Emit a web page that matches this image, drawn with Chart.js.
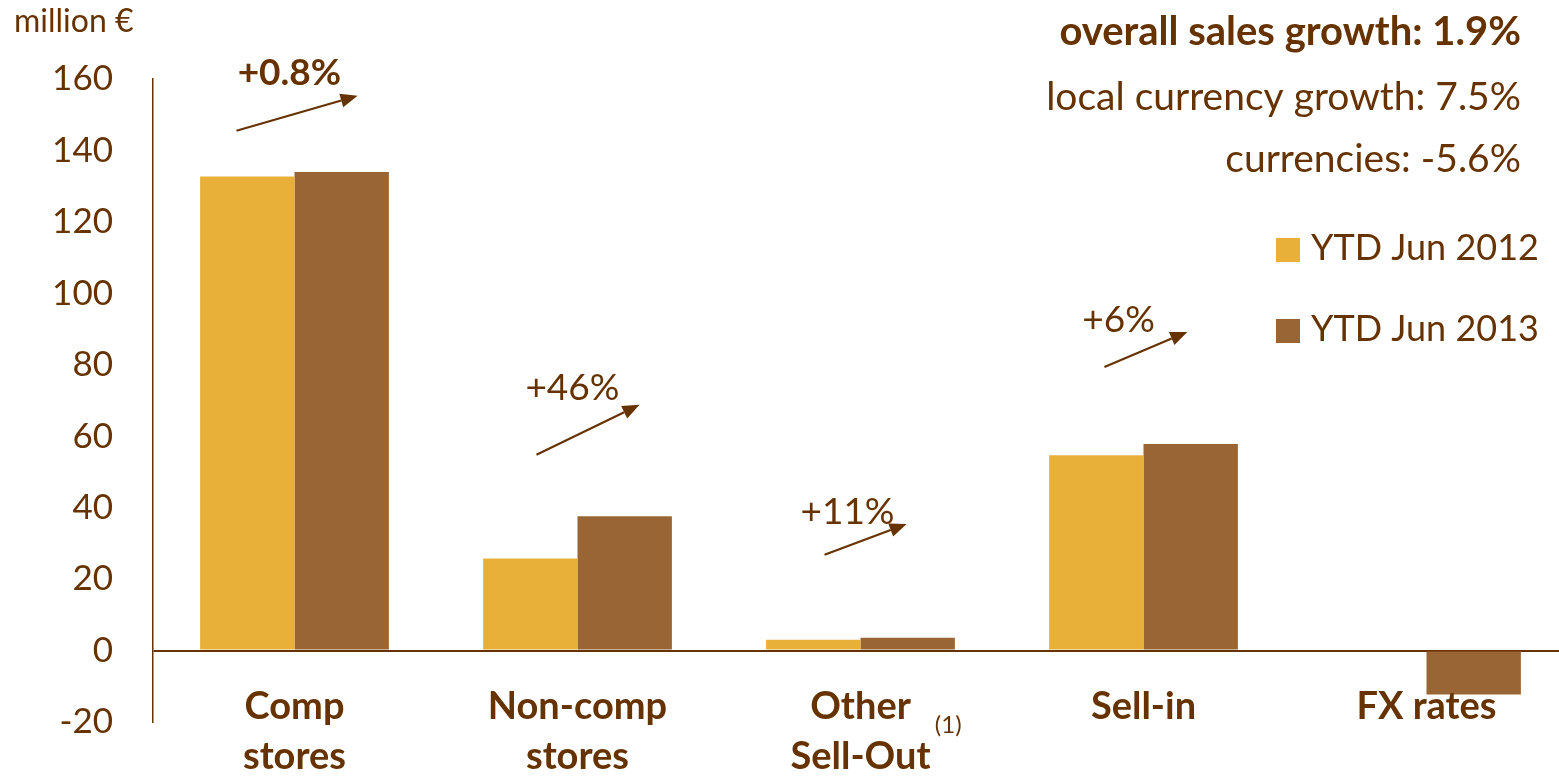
<!DOCTYPE html>
<html><head><meta charset="utf-8">
<script src="https://cdn.jsdelivr.net/npm/chart.js@4.4.0/dist/chart.umd.min.js"></script>
<style>
html,body{margin:0;padding:0;overflow:hidden;background:#fff;width:1559px;height:776px}
canvas{display:block}
</style></head>
<body><canvas id="c" width="1580" height="776"></canvas>
<script>
// ---- data ----
const categories = [["Comp","stores"],["Non-comp","stores"],["Other","Sell-Out"],["Sell-in"],["FX rates"]];
const seriesNames = ["YTD Jun 2012","YTD Jun 2013"];
const ytd2012 = [132.7, 25.8, 3.0, 54.7, null];
const ytd2013 = [134.0, 37.6, 3.6, 57.8, -12.3];
const yMin = -20, yMax = 160, yStep = 20;
const growthLabels = ["+0.8%","+46%","+11%","+6%"];
const summaryLines = ["overall sales growth: 1.9%","local currency growth: 7.5%","currencies: -5.6%"];
const unitLabel = "million €";
const footnoteMark = "(1)";

// ---- styling / annotation geometry ----
const TXT = '#663300';
const FONT = 'Lato, "Open Sans", sans-serif';
const colors = ['#E8B038','#9A6534'];
// arrows: offsets as fraction of category width, heights in axis units
const arrowGeom = [
  {dx0:-0.205, v0:145.5, dx1:0.223, v1:155.3, lx:-0.018, lv:161.7, bold:true},
  {dx0:-0.145, v0:54.8,  dx1:0.219, v1:68.8,  lx:-0.018, lv:73.5,  bold:false},
  {dx0:-0.127, v0:26.8,  dx1:0.163, v1:35.4,  lx:-0.046, lv:38.8,  bold:false},
  {dx0:-0.138, v0:79.4,  dx1:0.155, v1:89.2,  lx:-0.088, lv:92.6,  bold:false}
];

const overlay = {
  id:'overlay',
  afterDraw(chart){
    const {ctx, scales:{x,y}} = chart;
    ctx.save();
    ctx.fillStyle = TXT; ctx.strokeStyle = TXT;
    ctx.textBaseline = 'middle';
    // unit label
    ctx.font = '32px ' + FONT; ctx.textAlign = 'left';
    ctx.fillText(unitLabel, 14, 22);
    // summary lines
    ctx.textAlign = 'right';
    const sy = [32, 97, 159];
    summaryLines.forEach((t,i)=>{
      ctx.font = (i===0 ? 'bold 40px ' : '39px ') + FONT;
      ctx.fillText(t, 1521, sy[i]);
    });
    // legend
    const ly = [250, 331];
    chart.data.datasets.forEach((ds,i)=>{
      ctx.fillStyle = ds.backgroundColor;
      ctx.fillRect(1276, ly[i]-12, 24, 24);
      ctx.fillStyle = TXT; ctx.textAlign = 'left';
      ctx.font = '36px ' + FONT;
      ctx.fillText(ds.label, 1311, ly[i]-2);
    });
    // category labels (from the x scale)
    ctx.textAlign = 'center';
    ctx.font = 'bold 38px ' + FONT;
    chart.data.labels.forEach((lab,i)=>{
      const cx = x.getPixelForValue(i);
      [].concat(lab).forEach((line,j)=> ctx.fillText(line, cx, 707 + j*50));
    });
    // growth arrows
    const cw = x.getPixelForValue(1) - x.getPixelForValue(0);
    arrowGeom.forEach((a,i)=>{
      const cx = x.getPixelForValue(i);
      const x0 = cx + a.dx0*cw, y0 = y.getPixelForValue(a.v0);
      const x1 = cx + a.dx1*cw, y1 = y.getPixelForValue(a.v1);
      const ang = Math.atan2(y1-y0, x1-x0);
      const hl = 17, hw = 7;
      const bx = x1 - hl*Math.cos(ang), by = y1 - hl*Math.sin(ang);
      ctx.lineWidth = 2.2;
      ctx.beginPath(); ctx.moveTo(x0,y0); ctx.lineTo(bx,by); ctx.stroke();
      ctx.beginPath();
      ctx.moveTo(x1,y1);
      ctx.lineTo(bx + hw*Math.sin(ang), by - hw*Math.cos(ang));
      ctx.lineTo(bx - hw*Math.sin(ang), by + hw*Math.cos(ang));
      ctx.closePath(); ctx.fill();
      ctx.font = (a.bold ? 'bold ' : '') + '37px ' + FONT;
      ctx.fillText(growthLabels[i], cx + a.lx*cw, y.getPixelForValue(a.lv));
    });
    // footnote mark
    ctx.font = '24px ' + FONT; ctx.textAlign = 'center';
    ctx.fillText(footnoteMark, x.getPixelForValue(2) + 0.31*cw, 725);
    ctx.restore();
  }
};

new Chart(document.getElementById('c'), {
  type:'bar',
  data:{
    labels: categories,
    datasets:[
      {label:seriesNames[0], data:ytd2012, backgroundColor:colors[0]},
      {label:seriesNames[1], data:ytd2013, backgroundColor:colors[1]}
    ]
  },
  options:{
    responsive:false, animation:false, devicePixelRatio:1,
    layout:{padding:{top:79, right:12, left:0, bottom:54}},
    datasets:{bar:{categoryPercentage:0.667, barPercentage:1.0, borderWidth:0}},
    plugins:{legend:{display:false}, tooltip:{enabled:false}},
    scales:{
      x:{
        display:true,
        grid:{display:false, drawTicks:false},
        border:{display:false},
        ticks:{display:false, padding:0},
        afterFit(s){ s.height = 0; }
      },
      y:{
        min:yMin, max:yMax,
        ticks:{stepSize:yStep, color:TXT, font:{family:FONT, size:35}, padding:0},
        grid:{drawTicks:true, tickLength:40, tickColor:'rgba(0,0,0,0)',
              color:(c)=> c.tick && c.tick.value===0 ? TXT : 'rgba(0,0,0,0)', lineWidth:2},
        border:{display:true, color:TXT, width:1.5},
        afterFit(s){ s.width = 153; }
      }
    }
  },
  plugins:[overlay]
});
</script>
</body></html>
